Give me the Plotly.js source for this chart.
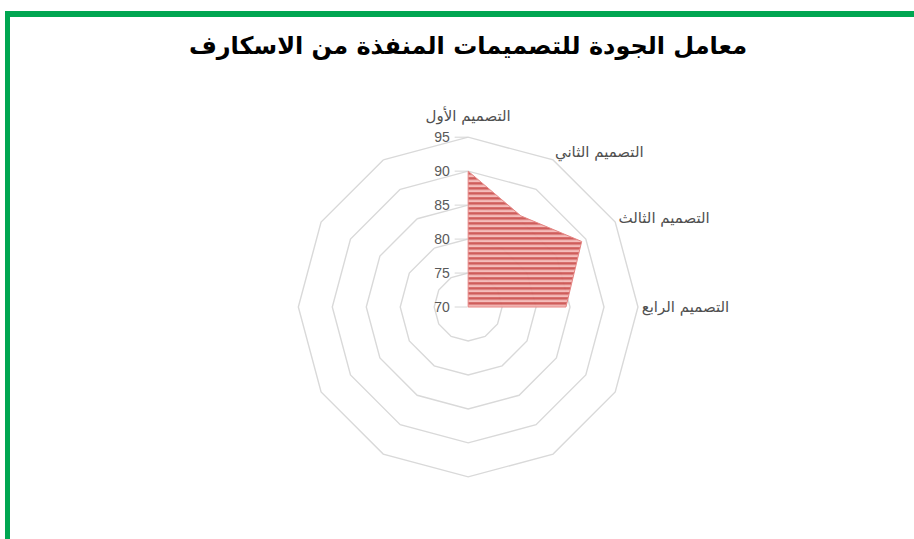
<!DOCTYPE html>
<html>
<head>
<meta charset="utf-8">
<script src="https://cdn.plot.ly/plotly-3.0.1.min.js"></script>
<style>
  html, body { margin: 0; padding: 0; background: #ffffff; }
  #frame { position: absolute; left: 5px; top: 11px; width: 920px; height: 540px;
           border-top: 6px solid #00a651; border-left: 5px solid #00a651; box-sizing: border-box; }
  #chart { position: absolute; left: 0; top: 0; width: 914px; height: 539px; }
</style>
</head>
<body>
<div id="frame"></div>
<div id="chart"></div>
<script>
// Data
const titleText = 'معامل الجودة للتصميمات المنفذة من الاسكارف';
const categories = ['التصميم الأول', 'التصميم الثاني', 'التصميم الثالث', 'التصميم الرابع',
                    ' ', '  ', '   ', '    ', '     ', '      ', '       ', '        '];
const values = [90, 85.5, 89.3, 84.4, 70, 70, 70, 70, 70, 70, 70, 70];
const radialTicks = [70, 75, 80, 85, 90, 95];

const theta = categories.concat([categories[0]]);
const r = values.concat([values[0]]);

const trace = {
  type: 'scatterpolar',
  mode: 'lines',
  r: r,
  theta: theta,
  fill: 'toself',
  fillcolor: 'rgba(226,120,118,0.9)',
  line: { color: '#e58583', width: 1 },
  hoverinfo: 'skip',
  showlegend: false
};

const layout = {
  width: 914,
  height: 539,
  margin: { l: 0, r: 0, t: 0, b: 0 },
  paper_bgcolor: 'rgba(0,0,0,0)',
  plot_bgcolor: 'rgba(0,0,0,0)',
  title: {
    text: '<b>' + titleText + '</b>',
    x: 0.512, xanchor: 'center',
    y: 0.915, yanchor: 'middle',
    font: { family: 'DejaVu Sans, sans-serif', size: 24, color: '#000000' }
  },
  showlegend: false,
  polar: {
    domain: { x: [0.3264, 0.6980], y: [0.1150, 0.7458] },
    bgcolor: 'rgba(0,0,0,0)',
    gridshape: 'linear',
    radialaxis: {
      range: [70, 95],
      tickvals: radialTicks,
      angle: 90,
      side: 'counterclockwise',
      tickangle: 90,
      showline: false,
      ticks: 'outside',
      ticklen: 13,
      tickcolor: '#d6d6d6',
      gridcolor: '#d9d9d9',
      gridwidth: 1.4,
      tickfont: { family: 'Liberation Sans, Arial, sans-serif', size: 14, color: '#595959' }
    },
    angularaxis: {
      direction: 'clockwise',
      rotation: 90,
      showgrid: false,
      showline: true,
      linecolor: '#d9d9d9',
      linewidth: 1.4,
      ticks: '',
      tickfont: { family: 'DejaVu Sans, sans-serif', size: 15, color: '#505050' }
    }
  }
};

Plotly.newPlot('chart', [trace], layout, { displayModeBar: false, staticPlot: true }).then(function (gd) {
  // Horizontal stripe pattern for the filled area (styling only)
  const svg = gd.querySelector('svg.main-svg');
  const ns = 'http://www.w3.org/2000/svg';
  let defs = svg.querySelector('defs');
  if (!defs) { defs = document.createElementNS(ns, 'defs'); svg.insertBefore(defs, svg.firstChild); }
  const pat = document.createElementNS(ns, 'pattern');
  pat.setAttribute('id', 'hstripes');
  pat.setAttribute('patternUnits', 'userSpaceOnUse');
  pat.setAttribute('width', '8');
  pat.setAttribute('height', '5');
  const bg = document.createElementNS(ns, 'rect');
  bg.setAttribute('width', '8'); bg.setAttribute('height', '5'); bg.setAttribute('fill', '#f4b9b7');
  const fg = document.createElementNS(ns, 'rect');
  fg.setAttribute('width', '8'); fg.setAttribute('height', '2.5'); fg.setAttribute('fill', '#cc5452');
  pat.appendChild(bg); pat.appendChild(fg);
  defs.appendChild(pat);
  gd.querySelectorAll('.scatterlayer path.js-fill').forEach(function (p) {
    p.style.fill = 'url(#hstripes)';
    p.style.fillOpacity = '0.95';
  });
  // Lift the top category label a little clear of the outer ring
  gd.querySelectorAll('svg text').forEach(function (t) {
    if (t.textContent === categories[0] && t.hasAttribute('y')) {
      t.setAttribute('y', String(parseFloat(t.getAttribute('y')) - 10));
    }
  });
});
</script>
</body>
</html>
